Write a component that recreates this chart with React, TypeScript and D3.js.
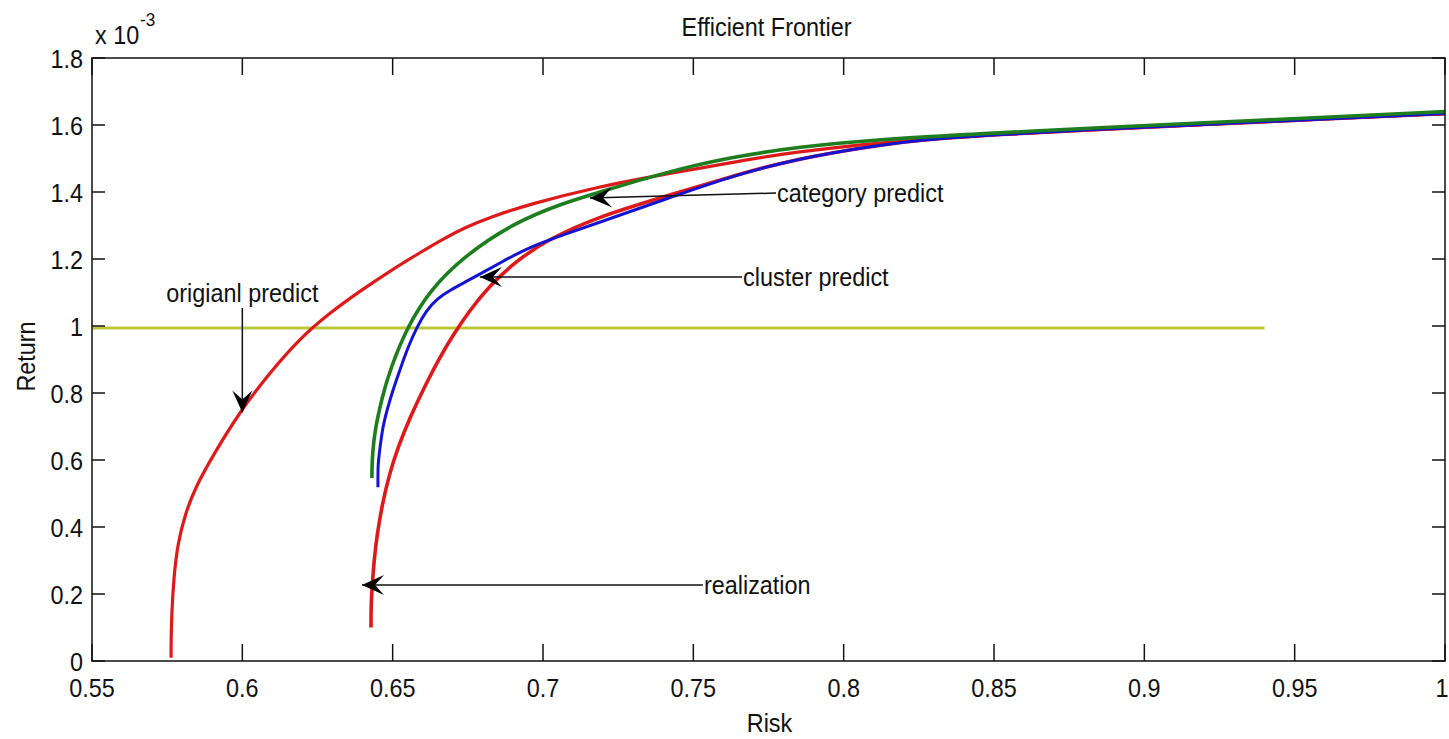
import React from "react";
import * as d3 from "d3";

// ---- data (Return in units of 1e-3) ----
const xTicks = [0.55, 0.6, 0.65, 0.7, 0.75, 0.8, 0.85, 0.9, 0.95, 1];
const xTickLabels = ["0.55", "0.6", "0.65", "0.7", "0.75", "0.8", "0.85", "0.9", "0.95", "1"];
const yTicks = [0, 0.2, 0.4, 0.6, 0.8, 1, 1.2, 1.4, 1.6, 1.8];
const yTickLabels = ["0", "0.2", "0.4", "0.6", "0.8", "1", "1.2", "1.4", "1.6", "1.8"];

const originalRisk = [0.5763, 0.5763, 0.5765, 0.5772, 0.5785, 0.581, 0.5845, 0.59, 0.5992, 0.6092, 0.6192, 0.6292, 0.6391, 0.6491, 0.6591, 0.6674, 0.6741, 0.6824, 0.6957, 0.718, 0.7399, 0.7622, 0.7788, 0.802, 0.825, 0.85, 0.88, 0.92, 0.96, 1.0];
const originalReturn = [0.01, 0.06, 0.14, 0.25, 0.35, 0.44, 0.52, 0.61, 0.745, 0.861, 0.964, 1.04, 1.104, 1.164, 1.219, 1.263, 1.294, 1.325, 1.364, 1.415, 1.452, 1.487, 1.513, 1.538, 1.556, 1.571, 1.585, 1.602, 1.618, 1.634];

const realizationRisk = [0.6428, 0.6428, 0.6431, 0.6438, 0.6448, 0.6465, 0.6488, 0.6518, 0.6558, 0.6604, 0.6657, 0.6701, 0.6757, 0.6824, 0.6907, 0.7013, 0.718, 0.7399, 0.7622, 0.7788, 0.802, 0.825, 0.85, 0.88, 0.92, 0.96, 1.0];
const realizationReturn = [0.1, 0.16, 0.212, 0.3, 0.376, 0.466, 0.555, 0.639, 0.728, 0.815, 0.907, 0.973, 1.048, 1.122, 1.191, 1.257, 1.325, 1.385, 1.445, 1.487, 1.527, 1.556, 1.571, 1.585, 1.602, 1.618, 1.634];

const clusterRisk = [0.6451, 0.6451, 0.6451, 0.6458, 0.6468, 0.6484, 0.6501, 0.6524, 0.6551, 0.6581, 0.6611, 0.6647, 0.6691, 0.6741, 0.679, 0.6874, 0.6957, 0.7067, 0.718, 0.7399, 0.7622, 0.7788, 0.802, 0.825, 0.85, 0.88, 0.92, 0.96, 1.0];
const clusterReturn = [0.519, 0.55, 0.585, 0.639, 0.704, 0.758, 0.809, 0.869, 0.937, 0.997, 1.045, 1.081, 1.107, 1.131, 1.155, 1.197, 1.236, 1.272, 1.307, 1.376, 1.445, 1.487, 1.527, 1.556, 1.571, 1.585, 1.602, 1.618, 1.634];

const categoryRisk = [0.6431, 0.6431, 0.6433, 0.6441, 0.6465, 0.6491, 0.6548, 0.6624, 0.6734, 0.69, 0.7067, 0.718, 0.7399, 0.7622, 0.7855, 0.81, 0.85, 0.88, 0.92, 0.96, 1.0];
const categoryReturn = [0.546, 0.57, 0.62, 0.69, 0.788, 0.869, 0.997, 1.107, 1.206, 1.307, 1.367, 1.397, 1.457, 1.504, 1.535, 1.556, 1.576, 1.59, 1.607, 1.623, 1.64];

const refRisk = [0.55, 0.94];
const refReturn = [0.994, 0.994];

// annotations: tail and arrow-tip positions in data units
const annoText = ["origianl predict", "category predict", "cluster predict", "realization"];
const annoTail = [[0.6, 1.054], [0.7775, 1.397], [0.7662, 1.146], [0.7532, 0.227]];
const annoTip = [[0.6, 0.742], [0.7156, 1.382], [0.679, 1.146], [0.6398, 0.227]];

const W = 1449;
const H = 739;
const L = 92, R = 1445, T = 58, B = 661;
const SX = 0.9;
const FONT = "'Liberation Sans', Arial, sans-serif";

function Txt({ x, y, anchor = "start", size = 26, rotate = 0, children }: any) {
  return (
    <text
      transform={`translate(${x},${y}) rotate(${rotate}) scale(${SX},1)`}
      textAnchor={anchor}
      fontSize={size}
      fontFamily={FONT}
      fill="#111"
    >
      {children}
    </text>
  );
}

function arrowHead(tx: number, ty: number, fx: number, fy: number) {
  const ang = Math.atan2(ty - fy, tx - fx);
  const len = 22, half = 10, back = 13;
  const c = Math.cos(ang), s = Math.sin(ang);
  const pt = (a: number, b: number) => [tx + a * c - b * s, ty + a * s + b * c];
  const p1 = pt(-len, half), p2 = pt(-back, 0), p3 = pt(-len, -half);
  return `M${tx},${ty}L${p1[0]},${p1[1]}L${p2[0]},${p2[1]}L${p3[0]},${p3[1]}Z`;
}

export default function App() {
  const x = d3.scaleLinear().domain([0.55, 1]).range([L, R]);
  const y = d3.scaleLinear().domain([0, 1.8]).range([B, T]);
  const line = d3
    .line<[number, number]>()
    .x((d) => x(d[0]))
    .y((d) => y(d[1]))
    .curve(d3.curveBasis);
  const zip = (a: number[], b: number[]) => a.map((v, i) => [v, b[i]] as [number, number]);

  const series = [
    { xs: originalRisk, ys: originalReturn, color: "#dd1a1a", w: 3.2 },
    { xs: realizationRisk, ys: realizationReturn, color: "#dd1a1a", w: 3.6 },
    { xs: clusterRisk, ys: clusterReturn, color: "#1414d0", w: 3 },
    { xs: categoryRisk, ys: categoryReturn, color: "#1e7d1e", w: 3.6 },
  ];

  return (
    <svg width={W} height={H} style={{ position: "absolute", left: 0, top: 0, background: "#fff" }}>
      <rect x={0} y={0} width={W} height={H} fill="#fff" />
      <Txt x={(L + R) / 2 - 2} y={36} anchor="middle">Efficient Frontier</Txt>
      <Txt x={95} y={44}>x 10</Txt>
      <Txt x={140} y={26} size={19}>-3</Txt>

      <line x1={x(refRisk[0])} y1={y(refReturn[0])} x2={x(refRisk[1])} y2={y(refReturn[1])} stroke="#bcc63a" strokeWidth={3} />

      {series.map((s, i) => (
        <path key={i} d={line(zip(s.xs, s.ys)) || ""} fill="none" stroke={s.color} strokeWidth={s.w} strokeLinejoin="round" />
      ))}

      {annoText.map((t, i) => {
        const tx = x(annoTail[i][0]), ty = y(annoTail[i][1]);
        const hx = x(annoTip[i][0]), hy = y(annoTip[i][1]);
        return (
          <g key={i}>
            <line x1={tx} y1={ty} x2={hx} y2={hy} stroke="#111" strokeWidth={1.5} />
            <path d={arrowHead(hx, hy, tx, ty)} fill="#000" />
            {i === 0 ? (
              <Txt x={tx} y={ty - 6} anchor="middle">{t}</Txt>
            ) : (
              <Txt x={tx + 1} y={ty + 9}>{t}</Txt>
            )}
          </g>
        );
      })}

      <rect x={L} y={T} width={R - L} height={B - T} fill="none" stroke="#111" strokeWidth={1.5} />
      {xTicks.map((v, i) => (
        <g key={"x" + i}>
          <line x1={x(v)} x2={x(v)} y1={B} y2={B - 17} stroke="#111" strokeWidth={1.5} />
          <line x1={x(v)} x2={x(v)} y1={T} y2={T + 17} stroke="#111" strokeWidth={1.5} />
          <Txt x={i === xTicks.length - 1 ? x(v) - 3 : x(v)} y={697} anchor="middle">{xTickLabels[i]}</Txt>
        </g>
      ))}
      {yTicks.map((v, i) => (
        <g key={"y" + i}>
          <line x1={L} x2={L + 13} y1={y(v)} y2={y(v)} stroke="#111" strokeWidth={1.5} />
          <line x1={R} x2={R - 13} y1={y(v)} y2={y(v)} stroke="#111" strokeWidth={1.5} />
          <Txt x={83} y={y(v) + 10} anchor="end">{yTickLabels[i]}</Txt>
        </g>
      ))}
      <Txt x={(L + R) / 2 + 1} y={732} anchor="middle">Risk</Txt>
      <Txt x={35} y={(T + B) / 2 - 3} anchor="middle" rotate={-90}>Return</Txt>
    </svg>
  );
}
